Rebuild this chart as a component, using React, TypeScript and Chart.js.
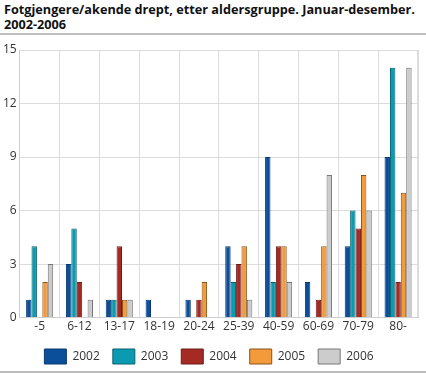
import React, { useEffect, useRef } from "react";
import { Chart, registerables } from "chart.js";

Chart.register(...registerables);

const categories = ["-5", "6-12", "13-17", "18-19", "20-24", "25-39", "40-59", "60-69", "70-79", "80-"];
const years = ["2002", "2003", "2004", "2005", "2006"];
const v2002 = [1, 3, 1, 1, 1, 4, 9, 2, 4, 9];
const v2003 = [4, 5, 1, 0, 0, 2, 2, 0, 6, 14];
const v2004 = [0, 2, 4, 0, 1, 3, 4, 1, 5, 2];
const v2005 = [2, 0, 1, 0, 2, 4, 4, 4, 8, 7];
const v2006 = [3, 1, 1, 0, 0, 1, 2, 8, 6, 14];
const yTicks = [0, 3, 6, 9, 12, 15];

const fills = ["#0b4f9a", "#0a9bb0", "#a52a24", "#f39a3a", "#cccccc"];
const borders = ["#083a72", "#06606e", "#6e1c18", "#8a5317", "#777777"];

export default function App() {
  const ref = useRef<HTMLCanvasElement>(null);
  useEffect(() => {
    document.body.style.margin = "0";
    const series = [v2002, v2003, v2004, v2005, v2006];
    const chart = new Chart(ref.current!, {
      type: "bar",
      data: {
        labels: categories,
        datasets: years.map((y, i) => ({
          label: y,
          data: series[i],
          backgroundColor: fills[i],
          borderColor: borders[i],
          borderWidth: 1,
          categoryPercentage: 0.68,
          barPercentage: 1,
        })),
      },
      options: {
        animation: false,
        responsive: false,
        maintainAspectRatio: false,
        layout: { padding: { top: 14, right: 8, left: 0, bottom: 0 } },
        plugins: {
          tooltip: { enabled: false },
          legend: {
            position: "bottom",
            labels: {
              boxWidth: 22,
              boxHeight: 15,
              padding: 13,
              color: "#333",
              font: { family: "Open Sans", size: 12 },
            },
          },
        },
        scales: {
          x: {
            grid: { color: "#dcdcdc", offset: true, drawTicks: false },
            border: { color: "#cfcfcf" },
            ticks: { color: "#333", font: { family: "Open Sans", size: 12 }, padding: 2, maxRotation: 0 },
          },
          y: {
            min: 0,
            max: 15,
            afterBuildTicks: (axis: any) => {
              axis.ticks = yTicks.map((v) => ({ value: v }));
            },
            grid: { color: "#dcdcdc", drawTicks: false },
            border: { color: "#cfcfcf" },
            ticks: { color: "#333", font: { family: "Open Sans", size: 12 }, padding: 3 },
          },
        },
      },
      plugins: [
        {
          id: "rightBorder",
          afterDraw(c: any) {
            const { ctx, chartArea } = c;
            ctx.save();
            ctx.strokeStyle = "#dcdcdc";
            ctx.lineWidth = 1;
            ctx.beginPath();
            ctx.moveTo(Math.round(chartArea.right) + 0.5, chartArea.top);
            ctx.lineTo(Math.round(chartArea.right) + 0.5, chartArea.bottom);
            ctx.stroke();
            ctx.restore();
          },
        },
      ],
    });
    return () => chart.destroy();
  }, []);
  return (
    <div style={{ width: 426, height: 374, position: "relative", background: "#fff", fontFamily: "Open Sans" }}>
      <div
        style={{
          position: "absolute",
          left: 4,
          top: 2,
          fontWeight: "bold",
          fontSize: 12.7,
          lineHeight: "15px",
          color: "#111",
          whiteSpace: "nowrap",
        }}
      >
        Fotgjengere/akende drept, etter aldersgruppe. Januar-desember.
        <br />
        2002-2006
      </div>
      <div style={{ position: "absolute", left: 0, top: 33, width: 426, height: 0, borderTop: "2px solid #bdbdbd" }} />
      <canvas ref={ref} width={426} height={338} style={{ position: "absolute", left: 0, top: 36 }} />
      <div style={{ position: "absolute", left: 0, top: 371, width: 426, height: 0, borderTop: "2px solid #bdbdbd" }} />
    </div>
  );
}
